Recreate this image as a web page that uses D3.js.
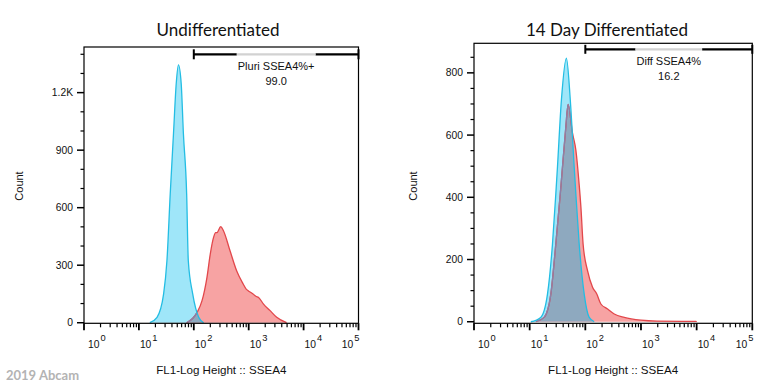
<!DOCTYPE html>
<html><head><meta charset="utf-8">
<script src="https://cdn.jsdelivr.net/npm/d3@7"></script>
<style>html,body{margin:0;padding:0;background:#fff;}svg{display:block;}</style>
</head><body>
<svg id="chart" width="768" height="388"></svg>
<script>
// ---------- data ----------
const panelTitles = ["Undifferentiated", "14 Day Differentiated"];
const gateLabels = ["Pluri SSEA4%+", "Diff SSEA4%"];
const gateValues = ["99.0", "16.2"];
const gateRange = [100, 100000];
const xTickExponents = [0, 1, 2, 3, 4, 5];
const yTicksLeft = [0, 300, 600, 900, 1200];
const yTickLabelsLeft = ["0", "300", "600", "900", "1.2K"];
const yTicksRight = [0, 200, 400, 600, 800];
const yTickLabelsRight = ["0", "200", "400", "600", "800"];
const xAxisTitle = "FL1-Log  Height :: SSEA4";
const yAxisTitle = "Count";
const watermark = "2019 Abcam";

// Undifferentiated: isotype (blue) and SSEA4 (red)
const undiffBlueX = [15.8, 21.4, 28.2, 32.4, 37.2, 42.7, 47.9, 52.5, 58.9, 64.6, 74.1, 79.4, 95.5, 123, 151];
const undiffBlueY = [0, 28, 150, 323, 671, 988, 1249, 1345, 1249, 988, 671, 323, 150, 28, 0];
const undiffRedX = [74.1, 114.8, 141.3, 173.8, 199.5, 229.1, 250, 263.0, 309.0, 346.7, 457.1, 602.6, 794.3, 900, 977.2, 1202, 1350, 1514, 1862, 2455, 3236, 4898];
const undiffRedY = [0, 54, 115, 237, 358, 445, 470, 470, 501, 480, 375, 271, 202, 175, 167, 150, 138, 132, 97, 63, 28, 0];
// 14 Day Differentiated
const diffBlueX = [10.5, 15.8, 20.9, 25.7, 29.5, 31.6, 37.2, 45.7, 53.7, 63.1, 67.6, 77.6, 95.5, 117.5, 144.5];
const diffBlueY = [0, 14, 89, 250, 411, 498, 713, 847, 713, 498, 411, 250, 89, 14, 0];
const diffRedX = [12.9, 18.2, 24.0, 29.5, 35.5, 38.9, 44.7, 49.0, 58.9, 67.6, 77.6, 83.2, 91.2, 109.6, 134.9, 160, 190.5, 251.2, 331.1, 501.2, 1000, 1950, 9772, 10000];
const diffRedY = [0, 14, 89, 250, 411, 498, 627, 699, 606, 552, 440, 370, 250, 164, 111, 90, 57, 41, 25, 14, 5, 2, 1, 0];

// ---------- layout ----------
const panels = [
  { title: panelTitles[0], titleX: 218, xr: [84, 358.5], yd: [-3, 1438], yr: [323.3, 47],
    yTicks: yTicksLeft, yLabels: yTickLabelsLeft, yMinorStep: 100,
    gateLabel: gateLabels[0], gateValue: gateValues[0], gateY: 54.3, capH: 5,
    blue: [undiffBlueX, undiffBlueY], red: [undiffRedX, undiffRedY], countX: 23, id: "p0" },
  { title: panelTitles[1], titleX: 607, xr: [474, 752.3], yd: [-5, 895], yr: [323.3, 43.3],
    yTicks: yTicksRight, yLabels: yTickLabelsRight, yMinorStep: 50,
    gateLabel: gateLabels[1], gateValue: gateValues[1], gateY: 49.3, capH: 4.5,
    blue: [diffBlueX, diffBlueY], red: [diffRedX, diffRedY], countX: 417, id: "p1" }
];

const svg = d3.select("#chart");
const defs = svg.append("defs");
const tickFont = "'Liberation Sans', Arial, sans-serif";

const C = { blueStroke: "#23bde3", blueFill: "#9fe6f9", redStroke: "#e2474b", redFill: "#f7a3a3",
            overlap: "#8ea9bf", redInBlue: "#8a80a8" };

panels.forEach(p => {
  const x = d3.scaleLog().domain([1, 100000]).range(p.xr);
  const y = d3.scaleLinear().domain(p.yd).range(p.yr);
  const g = svg.append("g");
  const x0 = p.xr[0], x1 = p.xr[1], yb = p.yr[0], yt = p.yr[1];

  const mk = (xs, ys) => xs.map((v, i) => ({ x: v, y: ys[i] }));
  const blue = mk(p.blue[0], p.blue[1]);
  const red = mk(p.red[0], p.red[1]);
  const area = d3.area().x(d => x(d.x)).y0(y(0)).y1(d => y(d.y)).curve(d3.curveMonotoneX);
  const line = d3.line().x(d => x(d.x)).y(d => y(d.y)).curve(d3.curveMonotoneX);

  defs.append("clipPath").attr("id", "clipBlue" + p.id).append("path").attr("d", area(blue));

  g.append("path").attr("d", area(blue)).attr("fill", C.blueFill);
  g.append("path").attr("d", area(red)).attr("fill", C.redFill);
  g.append("path").attr("d", area(red)).attr("fill", C.overlap).attr("clip-path", `url(#clipBlue${p.id})`);
  g.append("path").attr("d", line(red)).attr("fill", "none").attr("stroke", C.redStroke).attr("stroke-width", 1.3);
  g.append("path").attr("d", line(red)).attr("fill", "none").attr("stroke", C.redInBlue).attr("stroke-width", 1.3)
    .attr("clip-path", `url(#clipBlue${p.id})`);
  g.append("path").attr("d", line(blue)).attr("fill", "none").attr("stroke", C.blueStroke).attr("stroke-width", 1.3);

  // frame
  g.append("rect").attr("x", x0).attr("y", yt).attr("width", x1 - x0).attr("height", yb - yt)
    .attr("fill", "none").attr("stroke", "#000").attr("stroke-width", 1.2);

  // y axis ticks
  const yMax = p.yd[1];
  const minor = d3.range(0, yMax, p.yMinorStep).filter(v => !p.yTicks.includes(v));
  g.selectAll(null).data(minor).enter().append("line")
    .attr("x1", x0 - 3.5).attr("x2", x0).attr("y1", d => y(d)).attr("y2", d => y(d))
    .attr("stroke", "#000").attr("stroke-width", 1.2);
  g.selectAll(null).data(p.yTicks).enter().append("line")
    .attr("x1", x0 - 7).attr("x2", x0).attr("y1", d => y(d)).attr("y2", d => y(d))
    .attr("stroke", "#000").attr("stroke-width", 1.5);
  g.selectAll(null).data(p.yTicks).enter().append("text")
    .attr("x", x0 - 11).attr("y", d => y(d) + 3.5).attr("text-anchor", "end")
    .attr("font-family", tickFont).attr("font-size", 10.3).attr("fill", "#111")
    .text((d, i) => p.yLabels[i]);

  // x axis ticks
  const minorX = [];
  for (let e = 0; e < 5; e++) for (let k = 2; k <= 9; k++) minorX.push(k * Math.pow(10, e));
  g.selectAll(null).data(minorX).enter().append("line")
    .attr("x1", d => x(d)).attr("x2", d => x(d)).attr("y1", yb).attr("y2", yb + 4)
    .attr("stroke", "#000").attr("stroke-width", 1.2);
  const majors = xTickExponents.map(e => Math.pow(10, e));
  g.selectAll(null).data(majors).enter().append("line")
    .attr("x1", d => x(d)).attr("x2", d => x(d)).attr("y1", yb).attr("y2", yb + 7)
    .attr("stroke", "#000").attr("stroke-width", 1.8);
  xTickExponents.forEach((e, i) => {
    const last = i === xTickExponents.length - 1;
    const t = g.append("text").attr("x", last ? x(majors[i]) + 1 : x(majors[i]) + (i === 0 ? 4 : 1))
      .attr("y", 348).attr("text-anchor", last ? "end" : "start")
      .attr("font-family", tickFont).attr("font-size", 10.3).attr("fill", "#111");
    t.append("tspan").text("10");
    t.append("tspan").attr("dy", -7).attr("dx", 1).attr("font-size", 9.3).text(e);
  });

  // axis titles
  g.append("text").attr("x", (x0 + x1) / 2).attr("y", 374).attr("text-anchor", "middle")
    .attr("font-family", tickFont).attr("font-size", 11.6).attr("fill", "#111").text(xAxisTitle);
  g.append("text").attr("transform", `translate(${p.countX},186) rotate(-90)`).attr("text-anchor", "middle")
    .attr("font-family", tickFont).attr("font-size", 11).attr("fill", "#111").text(yAxisTitle);

  // panel title
  g.append("text").attr("x", p.titleX).attr("y", 36).attr("text-anchor", "middle")
    .attr("font-family", "Lato, 'Open Sans', sans-serif").attr("font-size", 17).attr("fill", "#111").text(p.title);

  // gate
  const gx0 = x(gateRange[0]), gx1 = x(gateRange[1]), gy = p.gateY, gm = (gx0 + gx1) / 2;
  const lbl = g.append("text").attr("x", gm).attr("y", gy + 16).attr("text-anchor", "middle")
    .attr("font-family", tickFont).attr("font-size", 11).attr("fill", "#111").text(p.gateLabel);
  g.append("text").attr("x", gm).attr("y", gy + 31).attr("text-anchor", "middle")
    .attr("font-family", tickFont).attr("font-size", 11).attr("fill", "#111").text(p.gateValue);
  const w = lbl.node().getComputedTextLength() + 2;
  g.append("line").attr("x1", gx0).attr("x2", gm - w / 2).attr("y1", gy).attr("y2", gy).attr("stroke", "#000").attr("stroke-width", 2.2);
  g.append("line").attr("x1", gm + w / 2).attr("x2", gx1).attr("y1", gy).attr("y2", gy).attr("stroke", "#000").attr("stroke-width", 2.2);
  g.append("line").attr("x1", gm - w / 2).attr("x2", gm + w / 2).attr("y1", gy).attr("y2", gy).attr("stroke", "#d2d2d2").attr("stroke-width", 2.2);
  [gx0, gx1].forEach(cx => g.append("line").attr("x1", cx).attr("x2", cx).attr("y1", gy - p.capH).attr("y2", gy + p.capH)
    .attr("stroke", "#000").attr("stroke-width", 2));
});

svg.append("text").attr("x", 6).attr("y", 380).attr("font-family", "Lato, 'Open Sans', sans-serif")
  .attr("font-weight", "bold").attr("font-size", 13).attr("fill", "#b3b3b3").text(watermark);
</script>
</body></html>
